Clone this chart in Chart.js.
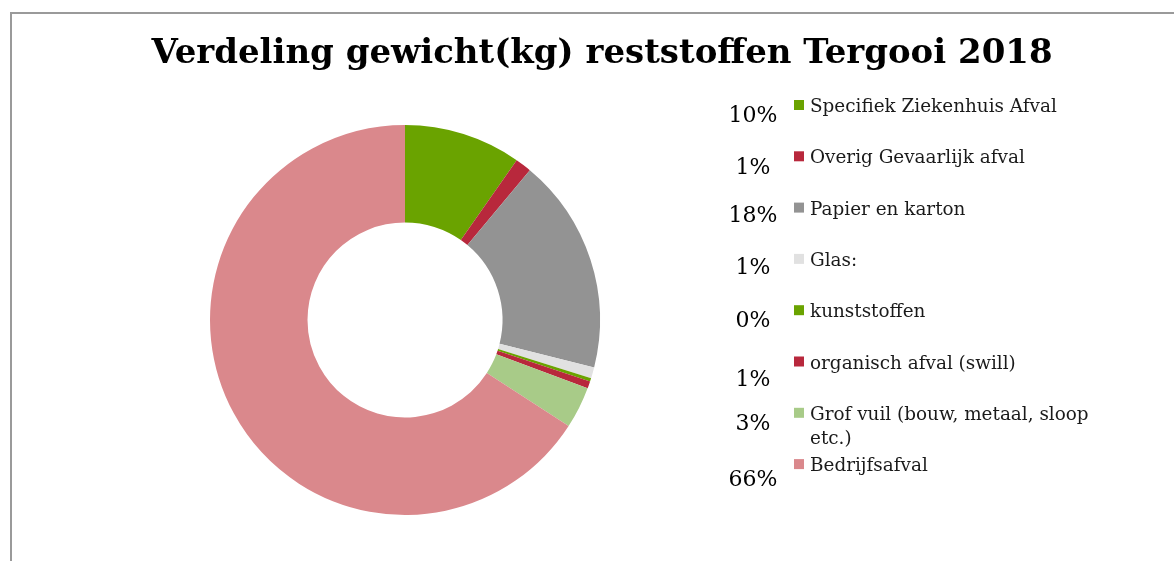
<!DOCTYPE html>
<html>
<head>
<meta charset="utf-8">
<script src="https://cdn.jsdelivr.net/npm/chart.js@4.4.1/dist/chart.umd.min.js"></script>
<style>
  html, body { margin: 0; padding: 0; background: #ffffff; overflow: hidden; }
  #c { display: block; }
</style>
</head>
<body>
<canvas id="c" width="1174" height="561"></canvas>
<script>
// ---- data ----
const chartTitle = 'Verdeling gewicht(kg) reststoffen Tergooi 2018';
const categories = [
  'Specifiek Ziekenhuis Afval',
  'Overig Gevaarlijk afval',
  'Papier en karton',
  'Glas:',
  'kunststoffen',
  'organisch afval (swill)',
  'Grof vuil (bouw, metaal, sloop etc.)',
  'Bedrijfsafval'
];
const shares = [9.7, 1.35, 17.85, 0.9, 0.28, 0.6, 3.45, 65.8];
const sliceColors = ['#6aa300', '#b8283c', '#939393', '#e1e1e1', '#6aa300', '#b8283c', '#a8cb88', '#da888c'];

// ---- layout (not data) ----
const serif = '"DejaVu Serif", "Liberation Serif", serif';
const legendX = 794, legendTop = 112, legendStep = 51.3, legendWrap = 290;
const pctX = 753;
const pctNudge = [10, 11, 7, 8, 10, 17, 10, 15];

const framePlugin = {
  id: 'frame',
  beforeDraw(chart) {
    const ctx = chart.ctx;
    ctx.save();
    ctx.strokeStyle = '#9a9a9a';
    ctx.lineWidth = 2;
    ctx.beginPath();
    ctx.moveTo(11, 561);
    ctx.lineTo(11, 13);
    ctx.lineTo(1174, 13);
    ctx.stroke();
    ctx.restore();
  }
};

const titlePlugin = {
  id: 'customTitle',
  afterDraw(chart) {
    const ctx = chart.ctx;
    ctx.save();
    ctx.font = 'bold 100px ' + serif;
    const w100 = ctx.measureText(chartTitle).width;
    const size = 100 * 901 / w100;
    ctx.font = 'bold ' + size.toFixed(2) + 'px ' + serif;
    ctx.fillStyle = '#000000';
    ctx.textAlign = 'center';
    ctx.textBaseline = 'alphabetic';
    ctx.fillText(chartTitle, 602, 63);
    ctx.restore();
  }
};

function wrapText(ctx, text, maxW) {
  const words = text.split(' ');
  const lines = [];
  let line = '';
  for (const w of words) {
    const t = line ? line + ' ' + w : w;
    if (ctx.measureText(t).width > maxW && line) { lines.push(line); line = w; }
    else line = t;
  }
  if (line) lines.push(line);
  return lines;
}

const legendPlugin = {
  id: 'sideLegend',
  afterDraw(chart) {
    const ctx = chart.ctx;
    const ds = chart.data.datasets[0];
    const total = ds.data.reduce((a, b) => a + b, 0);
    ctx.save();
    chart.data.labels.forEach((lab, i) => {
      const base = legendTop + i * legendStep;
      ctx.fillStyle = ds.backgroundColor[i];
      ctx.fillRect(legendX, base - 12, 10, 10);
      ctx.font = '18.4px ' + serif;
      ctx.fillStyle = '#1a1a1a';
      ctx.textAlign = 'left';
      ctx.textBaseline = 'alphabetic';
      wrapText(ctx, lab, legendWrap).forEach((ln, k) => {
        ctx.fillText(ln, legendX + 16, base + k * 24);
      });
      const pct = Math.round(ds.data[i] / total * 100) + '%';
      ctx.font = '22px ' + serif;
      ctx.textAlign = 'center';
      ctx.fillStyle = '#000000';
      ctx.fillText(pct, pctX, base + pctNudge[i]);
    });
    ctx.restore();
  }
};

new Chart(document.getElementById('c'), {
  type: 'doughnut',
  data: {
    labels: categories,
    datasets: [{
      data: shares,
      backgroundColor: sliceColors,
      borderWidth: 0,
      hoverOffset: 0
    }]
  },
  options: {
    responsive: false,
    animation: false,
    cutout: '50%',
    rotation: 0,
    layout: { padding: { left: 210, top: 125, right: 574, bottom: 46 } },
    plugins: {
      legend: { display: false },
      title: { display: false },
      tooltip: { enabled: false }
    }
  },
  plugins: [framePlugin, titlePlugin, legendPlugin]
});
</script>
</body>
</html>
